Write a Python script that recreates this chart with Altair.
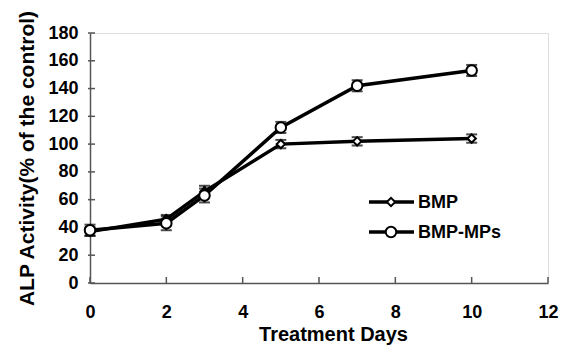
import altair as alt
import pandas as pd

days = [0, 2, 3, 5, 7, 10]
bmp = [37, 46, 66, 100, 102, 104]
bmp_err = [3, 3, 4, 3, 3, 3]
bmp_mps = [38, 43, 63, 112, 142, 153]
bmp_mps_err = [4, 5, 5, 4, 4, 4]
x_ticks = [0, 2, 4, 6, 8, 10, 12]
y_ticks = [0, 20, 40, 60, 80, 100, 120, 140, 160, 180]

FONT = "Liberation Sans"

df_bmp = pd.DataFrame({"day": days, "val": bmp, "lo": [v - e for v, e in zip(bmp, bmp_err)],
                       "hi": [v + e for v, e in zip(bmp, bmp_err)], "series": "BMP"})
df_mps = pd.DataFrame({"day": days, "val": bmp_mps, "lo": [v - e for v, e in zip(bmp_mps, bmp_mps_err)],
                       "hi": [v + e for v, e in zip(bmp_mps, bmp_mps_err)], "series": "BMP-MPs"})

xs = alt.Scale(domain=[0, 12], nice=False, zero=False)
ys = alt.Scale(domain=[0, 180], nice=False)

xax = alt.Axis(values=x_ticks, title="Treatment Days", grid=False, ticks=False, labelFlush=False,
               labelFont=FONT, labelFontWeight="bold", labelFontSize=18, labelColor="black",
               labelPadding=20, titleFont=FONT, titleFontWeight="bold", titleFontSize=20,
               titleColor="black", titlePadding=3, titleX=243, titleAlign="center",
               domainColor="#555", domainWidth=1.5)
yax = alt.Axis(values=y_ticks, title="ALP Activity(% of the control)", grid=False, ticks=False,
               labelFlush=False,
               labelFont=FONT, labelFontWeight="bold", labelFontSize=18, labelColor="black",
               labelPadding=12, titleFont=FONT, titleFontWeight="bold", titleFontSize=21,
               titleColor="black", titlePadding=10, domainColor="#555", domainWidth=1.5)

def X(field):
    return alt.X(field, scale=xs, axis=xax)

def Y(field):
    return alt.Y(field, scale=ys, axis=yax)

xt = alt.Chart(pd.DataFrame({"day": x_ticks})).mark_rule(color="#555", strokeWidth=1.5).encode(
    x=X("day:Q"), y=alt.value(250), y2=alt.value(244))
yt = alt.Chart(pd.DataFrame({"val": y_ticks})).mark_rule(color="#555", strokeWidth=1.5).encode(
    y=Y("val:Q"), x=alt.value(-2), x2=alt.value(5))

def series_layers(df, shape, size):
    line = alt.Chart(df).mark_line(color="black", strokeWidth=3.5).encode(
        x=X("day:Q"), y=Y("val:Q"))
    err = alt.Chart(df).mark_errorbar(ticks=alt.TickConfig(size=11, thickness=2, color="black"),
                                      color="black", thickness=2).encode(
        x=X("day:Q"), y=Y("lo:Q"), y2="hi:Q")
    pts = alt.Chart(df).mark_point(shape=shape, size=size, filled=True, fill="white",
                                   stroke="black", strokeWidth=2, opacity=1).encode(
        x=X("day:Q"), y=Y("val:Q"))
    return [line, err, pts]

legend_names = ["BMP", "BMP-MPs"]
leg_layers = []
for i, (name, shape, size) in enumerate(zip(legend_names, ["diamond", "circle"], [70, 110])):
    yy = 169 + i * 30
    d = pd.DataFrame({"n": [name]})
    leg_layers.append(alt.Chart(d).mark_rule(color="black", strokeWidth=3.5).encode(
        x=alt.value(279), x2=alt.value(324), y=alt.value(yy)))
    leg_layers.append(alt.Chart(d).mark_point(shape=shape, size=size, filled=True, fill="white",
                                              stroke="black", strokeWidth=2, opacity=1).encode(
        x=alt.value(301), y=alt.value(yy)))
    leg_layers.append(alt.Chart(d).mark_text(font=FONT, fontWeight="bold", fontSize=18,
                                             align="left", baseline="middle", color="black").encode(
        x=alt.value(328), y=alt.value(yy + 1), text="n:N"))

chart = alt.layer(xt, yt,
                  *series_layers(df_bmp, "diamond", 70),
                  *series_layers(df_mps, "circle", 110),
                  *leg_layers).properties(
    width=458, height=250,
    autosize=alt.AutoSizeParams(type="none"),
    padding={"left": 82, "top": 25, "right": 12, "bottom": 63},
).configure_view(stroke=None).configure(background="white")

chart.save("out.html", embed_options={"renderer": "svg", "actions": False})
